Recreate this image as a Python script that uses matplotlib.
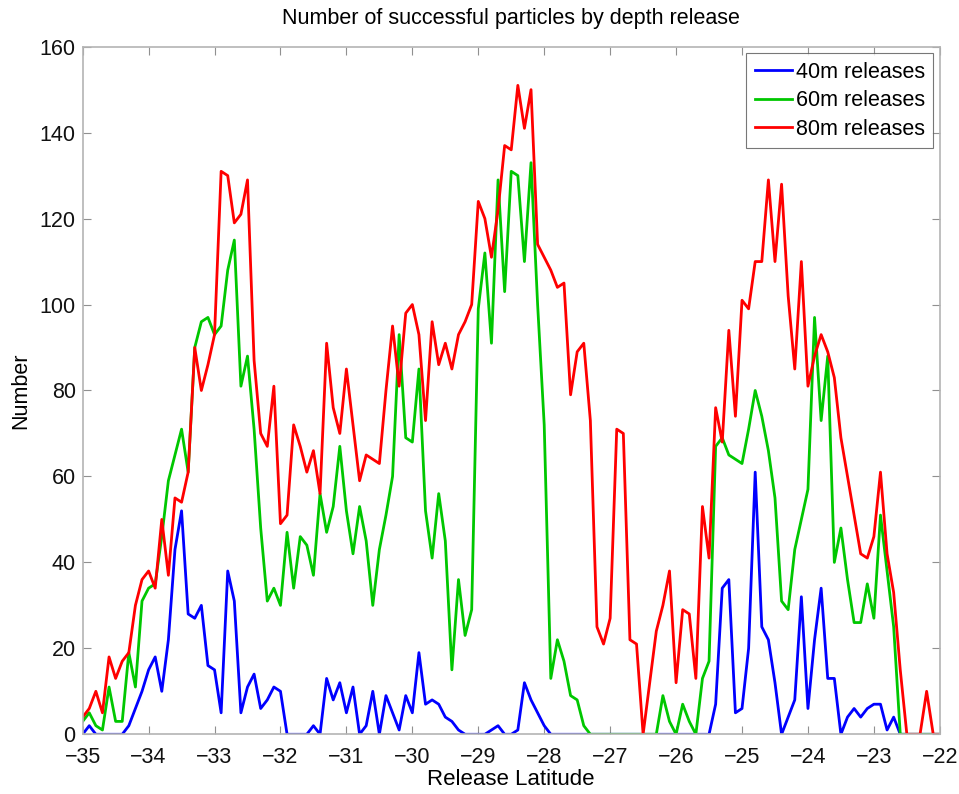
import numpy as np
import matplotlib
matplotlib.use("Agg")
import matplotlib.pyplot as plt

plt.rcParams['font.family'] = ['Liberation Sans', 'DejaVu Sans']

# release latitudes, every 0.1 degree from -35 to -22
lat = np.linspace(-35, -22, 131)

n40 = [0, 2, 0, 0, 0, 0, 0, 2, 6, 10,
       15, 18, 10, 22, 43, 52, 28, 27, 30, 16,
       15, 5, 38, 31, 5, 11, 14, 6, 8, 11,
       10, 0, 0, 0, 0, 2, 0, 13, 8, 12,
       5, 11, 0, 2, 10, 0, 9, 5, 1, 9,
       5, 19, 7, 8, 7, 4, 3, 1, 0, 0,
       0, 0, 1, 2, 0, 0, 1, 12, 8, 5,
       2, 0, 0, 0, 0, 0, 0, 0, 0, 0,
       0, 0, 0, 0, 0, 0, 0, 0, 0, 0,
       0, 0, 0, 0, 0, 0, 7, 34, 36, 5,
       6, 20, 61, 25, 22, 12, 0, 4, 8, 32,
       6, 22, 34, 13, 13, 0, 4, 6, 4, 6,
       7, 7, 1, 4, 0, 0, 0, 0, 0, 0,
       0]

n60 = [3, 5, 2, 1, 11, 3, 3, 19, 11, 31,
       34, 35, 46, 59, 65, 71, 61, 90, 96, 97,
       93, 95, 108, 115, 81, 88, 71, 48, 31, 34,
       30, 47, 34, 46, 44, 37, 56, 47, 53, 67,
       52, 42, 53, 45, 30, 43, 51, 60, 93, 69,
       68, 85, 52, 41, 56, 45, 15, 36, 23, 29,
       99, 112, 91, 129, 103, 131, 130, 110, 133, 100,
       72, 13, 22, 17, 9, 8, 2, 0, 0, 0,
       0, 0, 0, 0, 0, 0, 0, 0, 9, 3,
       0, 7, 3, 0, 13, 17, 67, 69, 65, 64,
       63, 71, 80, 74, 66, 55, 31, 29, 43, 50,
       57, 97, 73, 88, 40, 48, 36, 26, 26, 35,
       27, 51, 38, 25, 0, 0, 0, 0, 0, 0,
       0]

n80 = [4, 6, 10, 5, 18, 13, 17, 19, 30, 36,
       38, 34, 50, 37, 55, 54, 61, 90, 80, 86,
       93, 131, 130, 119, 121, 129, 87, 70, 67, 81,
       49, 51, 72, 67, 61, 66, 56, 91, 76, 70,
       85, 72, 59, 65, 64, 63, 80, 95, 81, 98,
       100, 93, 73, 96, 86, 91, 85, 93, 96, 100,
       124, 120, 111, 122, 137, 136, 151, 141, 150, 114,
       111, 108, 104, 105, 79, 89, 91, 73, 25, 21,
       27, 71, 70, 22, 21, 0, 12, 24, 30, 38,
       12, 29, 28, 13, 53, 41, 76, 68, 94, 74,
       101, 99, 110, 110, 129, 110, 128, 102, 85, 110,
       81, 88, 93, 89, 83, 69, 60, 51, 42, 41,
       46, 61, 42, 33, 15, 0, 0, 0, 10, 0,
       0]

fig = plt.figure(figsize=(9.59, 7.94), dpi=100)
ax = fig.add_axes([0.0862, 0.0752, 0.8938, 0.866])

ax.plot(lat, n40, color=(0, 0, 1), lw=2.0, label='40m releases')
ax.plot(lat, n60, color=(0, 0.78, 0), lw=2.0, label='60m releases')
ax.plot(lat, n80, color=(1, 0, 0), lw=2.0, label='80m releases')

ax.set_xlim(-35, -22)
ax.set_ylim(0, 160)
ax.set_xticks(np.arange(-35, -21, 1))
ax.set_yticks(np.arange(0, 161, 20))
ax.set_xticklabels(['\u2212%d' % abs(v) for v in range(-35, -21)])

for s in ax.spines.values():
    s.set_color('#b4b4b4')
    s.set_linewidth(1.2)
ax.tick_params(direction='in', top=True, right=True, length=6,
               color='#909090', labelsize=15.5, labelcolor='#111111')
ax.tick_params(axis='x', pad=9)
ax.tick_params(axis='y', pad=5)

ax.set_title('Number of successful particles by depth release', fontsize=15.5, pad=16)
ax.set_xlabel('Release Latitude', fontsize=16, labelpad=1)
ax.set_ylabel('Number', fontsize=15.5, labelpad=6)

leg = ax.legend(loc='upper right', fontsize=15.5, frameon=True, fancybox=False,
                handlelength=1.75, handletextpad=0.15, borderpad=0.4,
                labelspacing=0.35, borderaxespad=0.3)
leg.get_frame().set_edgecolor('#555555')
leg.get_frame().set_linewidth(0.8)

fig.savefig('out.png', dpi=100)
